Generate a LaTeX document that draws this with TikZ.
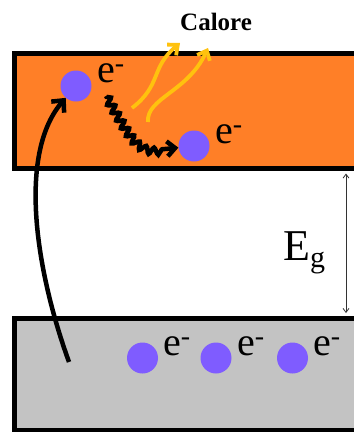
\documentclass[tikz,border=0pt]{standalone}
\usepackage{fontspec}
\setmainfont{Liberation Serif}
\usetikzlibrary{arrows.meta,decorations.pathmorphing}
\definecolor{cbor}{HTML}{FF7F27}
\definecolor{vbgray}{HTML}{C3C3C3}
\definecolor{elec}{HTML}{7F5CFF}
\definecolor{heat}{HTML}{FFC20E}
\tikzset{
  band/.style={draw=black, line width=5pt, inner sep=0pt, rectangle, minimum width=386pt},
  electron/.style={circle, fill=elec, minimum size=31pt, inner sep=0pt},
  elabel/.style={anchor=base west, inner sep=0pt, font=\fontsize{40}{40}\selectfont},
  jump/.style={line width=4.5pt, -{Straight Barb[length=9pt,width=17pt]}},
  wavy/.style={line width=4.5pt, decorate, decoration={snake, amplitude=3.5pt, segment length=9pt, pre length=1pt, post length=12pt}, -{Straight Barb[length=8pt,width=15pt]}},
  heatarrow/.style={heat, line width=3.8pt, -{Straight Barb[length=8pt,width=14pt]}},
  gaparrow/.style={line width=0.8pt, black!80, {Straight Barb[length=4pt,width=6pt]}-{Straight Barb[length=4pt,width=6pt]}, shorten <=2.5pt, shorten >=2.5pt}
}
\begin{document}
\begin{tikzpicture}[x=1pt,y=-1pt]
\useasboundingbox (0,0) rectangle (354,432);
\fill[white] (0,0) rectangle (354,432);
% bands
\node[band, fill=cbor, minimum height=115pt] (cb) at (207.5,111) {};
\node[band, fill=vbgray, minimum height=112.5pt] (vb) at (207.5,374.25) {};
% electrons in conduction band
\node[electron] (e1) at (76,86) {};
\node[electron] (e2) at (194,146) {};
\node[elabel] (l1) at (97,82) {e\textsuperscript{-}};
\node[elabel] (l2) at (215,143) {e\textsuperscript{-}};
% electrons in valence band
\node[electron] (v1) at (142.5,358) {};
\node[electron] (v2) at (216,358) {};
\node[electron] (v3) at (292.5,358) {};
\node[elabel] (lv1) at (163,355) {e\textsuperscript{-}};
\node[elabel] (lv2) at (237,355) {e\textsuperscript{-}};
\node[elabel] (lv3) at (313,355) {e\textsuperscript{-}};
% heat label
\node[anchor=base west, inner sep=0pt, font=\bfseries\fontsize{25}{25}\selectfont] (calore) at (180,30) {Calore};
% gap label
\node[anchor=base west, inner sep=0pt, font=\fontsize{44}{44}\selectfont] (eg) at (283,260) {E{\fontsize{30}{30}\selectfont\raisebox{-7pt}{g}}};
% excitation arrow
\coordinate (c0) at (69,362);
\draw[jump] (c0) .. controls (35,268) and (18,153) .. (e1);
% relaxation (wavy) arrow
\coordinate (w0) at (106,96);
\draw[wavy] (w0) .. controls (138,152) .. (e2);
% heat arrows
\coordinate (h1s) at (132,108);
\coordinate (h1e) at (180,43);
\coordinate (h2s) at (148,122);
\coordinate (h2e) at (208,48);
\draw[heatarrow] (h1s) .. controls (162,85) and (150,68) .. (h1e);
\draw[heatarrow] (h2s) .. controls (146,98) and (188,92) .. (h2e);
% band gap arrow
\draw[gaparrow] (cb.south -| 346,0) -- (vb.north -| 346,0);
\end{tikzpicture}
\end{document}
